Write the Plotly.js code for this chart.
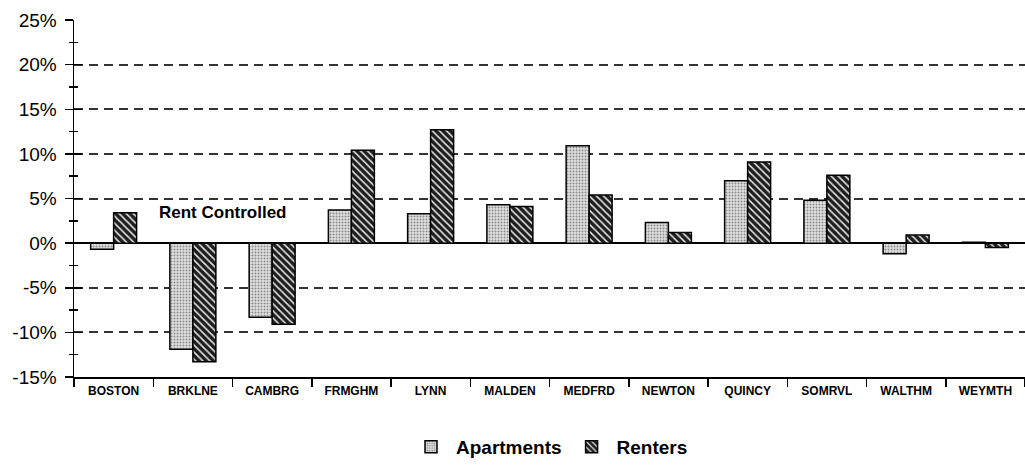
<!DOCTYPE html>
<html>
<head>
<meta charset="utf-8">
<script src="https://cdn.plot.ly/plotly-3.0.1.min.js"></script>
<style>html,body{margin:0;padding:0;background:#fff;}#chart{width:1025px;height:466px;}</style>
</head>
<body>
<div id="chart"></div>
<script>
const categories = ["BOSTON","BRKLNE","CAMBRG","FRMGHM","LYNN","MALDEN","MEDFRD","NEWTON","QUINCY","SOMRVL","WALTHM","WEYMTH"];
const apartments = [-0.7, -11.9, -8.3, 3.7, 3.3, 4.3, 10.9, 2.3, 7.0, 4.8, -1.2, 0.1];
const renters    = [3.4, -13.3, -9.1, 10.4, 12.7, 4.1, 5.4, 1.2, 9.1, 7.6, 0.9, -0.5];
const yTickVals  = [-15, -10, -5, 0, 5, 10, 15, 20, 25];
const yTickText  = ["-15%","-10%","-5%","0%","5%","10%","15%","20%","25%"];
const gridVals   = [-10, -5, 5, 10, 15, 20, 25];
const minorVals  = [-12.5, -7.5, -2.5, 2.5, 7.5, 12.5, 17.5, 22.5];
const noteText = "Rent Controlled";
const noteX = 1.38, noteY = 3.4;

const traces = [
  {
    type: "scatter", mode: "markers", x: categories, y: renters, yaxis: "y2",
    marker: {opacity: 0, size: 1}, showlegend: false, hoverinfo: "skip"
  },
  {
    type: "bar", name: "Apartments", x: categories, y: apartments,
    marker: {
      color: "#d8d8d8",
      line: {color: "#000", width: 1.5},
      pattern: {shape: ".", fillmode: "replace", bgcolor: "#e2e2e2", fgcolor: "#8a8a8a", size: 3, solidity: 0.35}
    }
  },
  {
    type: "bar", name: "Renters", x: categories, y: renters,
    marker: {
      color: "#222",
      line: {color: "#000", width: 1.5},
      pattern: {shape: "\\", fillmode: "replace", bgcolor: "#1e1e1e", fgcolor: "#e8e8e8", size: 5, solidity: 0.3}
    }
  }
];

const layout = {
  width: 1025, height: 466,
  margin: {l: 74, r: 0, t: 20, b: 85},
  paper_bgcolor: "#fff", plot_bgcolor: "rgba(0,0,0,0)",
  font: {family: "Arial, Liberation Sans, sans-serif", color: "#000"},
  barmode: "group", bargap: 0.42, bargroupgap: 0,
  showlegend: true,
  legend: {
    orientation: "h", x: 0.5, xanchor: "center", y: -0.197, yanchor: "middle",
    font: {size: 19, family: "Arial, Liberation Sans, sans-serif", weight: "bold"},
    itemwidth: 40, traceorder: "normal"
  },
  xaxis: {
    type: "category",
    range: [-0.5, categories.length - 0.5],
    showline: true, linecolor: "#000", linewidth: 1.5,
    ticks: "outside", ticklen: 8, tickwidth: 1.5, tickcolor: "#000",
    tickson: "boundaries",
    ticklabelstandoff: 2,
    tickfont: {size: 12, weight: "bold"},
    showgrid: false, zeroline: false
  },
  yaxis: {
    range: [-15, 25],
    tickmode: "array", tickvals: yTickVals, ticktext: yTickText,
    tickfont: {size: 19},
    showline: true, linecolor: "#000", linewidth: 1.5,
    ticks: "outside", ticklen: 8, tickwidth: 1.5, tickcolor: "#000",
    ticklabelstandoff: 4,
    minor: {tickmode: "array", tickvals: minorVals, ticks: "outside", ticklen: 4, tickwidth: 1.5, tickcolor: "#000", showgrid: false},
    showgrid: false,
    zeroline: true, zerolinecolor: "#000", zerolinewidth: 1.5
  },
  yaxis2: {
    overlaying: "y", anchor: "x", side: "left",
    range: [-15, 25],
    tickmode: "array", tickvals: gridVals,
    showticklabels: false,
    ticks: "inside", ticklen: 8, tickwidth: 1.5, tickcolor: "#000",
    minor: {tickmode: "array", tickvals: minorVals, ticks: "inside", ticklen: 4, tickwidth: 1.5, tickcolor: "#000", showgrid: false},
    showgrid: true, gridcolor: "#333", gridwidth: 2, griddash: "9px,6px",
    zeroline: false, showline: false
  },
  annotations: [{
    x: noteX, y: noteY, xref: "x", yref: "y", text: noteText, showarrow: false,
    font: {size: 17, weight: "bold", color: "#000"}
  }]
};

Plotly.newPlot("chart", traces, layout, {displayModeBar: false, staticPlot: true});
</script>
</body>
</html>
